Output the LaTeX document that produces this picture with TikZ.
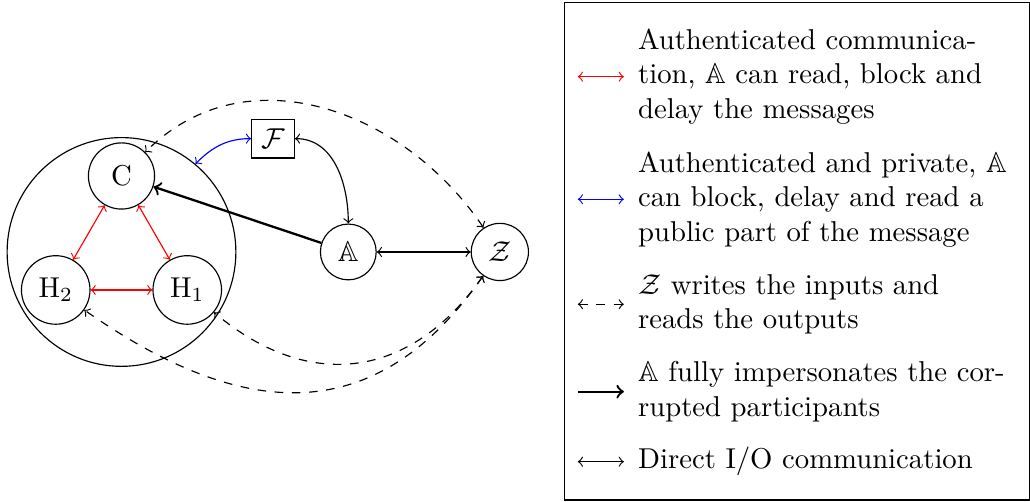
\documentclass[tikz,border=0pt]{standalone}
\usepackage{amsmath}
\usepackage{amssymb}
\usetikzlibrary{positioning,arrows}
\tikzset{party/.style={draw,circle},
  legkey/.style={minimum width=0.55cm,inner sep=0pt},
  legtext/.style={text width=4.58cm,align=left,right=0.05cm of #1}}

\begin{document}
\begin{tikzpicture}
    \useasboundingbox (0,0) rectangle (12.607,6.144);
    % parties
    \node[draw,circle,minimum size=2.8cm] (corrupt) at (1.487,3.06) {};
    \node[party,minimum size=0.81cm] (C) at (1.487,3.99) {C};
    \node[party] (H2) at (0.682,2.595) {H$_2$};
    \node[party] (H1) at (2.292,2.595) {H$_1$};
    \node[party] (A) at (4.263,3.06) {$\mathbb{A}$};
    \node[party] (Z) at (6.118,3.06) {$\mathcal{Z}$};
    \node[draw] (F) at (3.341,4.447) {$\mathcal{F}$};

    \draw[red,<->] (C) -- (H2);
    \draw[red,<->] (C) -- (H1);
    \draw[red,<->] (H2) -- (H1);
    \draw[blue,<->] (corrupt.50) to[out=45,in=180] (F);
    \draw[<->] (F) to[out=0,in=90] (A);
    \draw[thick,->] (A) -- (C);
    \draw[<->] (A) -- (Z);
    \draw[dashed,<->] (Z) to[out=124,in=45,looseness=1.05] (C);
    \draw[dashed,<->] (Z.235) to[out=235,in=-40,looseness=1.18] (H1);
    \draw[dashed,<->] (Z.235) to[out=235,in=-35,looseness=1.22] (H2);

    % legend
    \draw (6.907,0.0245) rectangle (12.6,6.111);
    \node[legkey] (k1) at (7.354,5.206) {};
    \node[legtext=k1] (t1) {Authenticated communication, $\mathbb{A}$ can read, block and delay the messages};
    \node[legkey] (k2) at (7.354,3.705) {};
    \node[legtext=k2] (t2) {Authenticated and private, $\mathbb{A}$ can block, delay and read a public part of the message};
    \node[legkey] (k3) at (7.354,2.420) {};
    \node[legtext=k3] (t3) {$\mathcal{Z}$ writes the inputs and reads the outputs};
    \node[legkey] (k4) at (7.354,1.350) {};
    \node[legtext=k4] (t4) {$\mathbb{A}$ fully impersonates the corrupted participants};
    \node[legkey] (k5) at (7.354,0.493) {};
    \node[legtext=k5] (t5) {Direct I/O communication};
    \draw[red,<->] (k1.west) -- (k1.east);
    \draw[blue,<->] (k2.west) -- (k2.east);
    \draw[dashed,<->] (k3.west) -- (k3.east);
    \draw[thick,->] (k4.west) -- (k4.east);
    \draw[<->] (k5.west) -- (k5.east);
\end{tikzpicture}
\end{document}
